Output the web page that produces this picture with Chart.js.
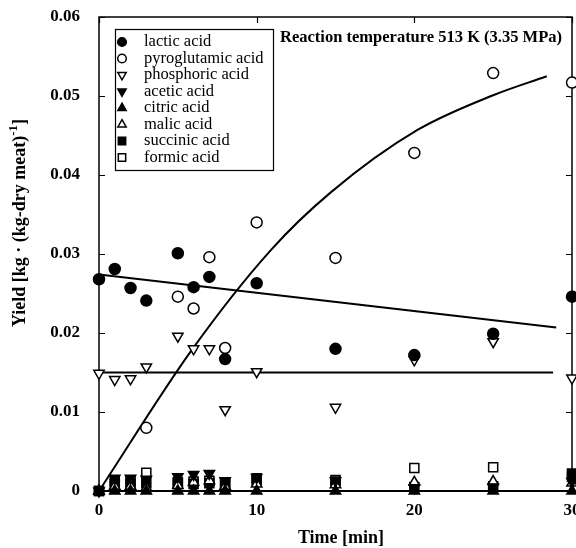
<!DOCTYPE html>
<html>
<head>
<meta charset="utf-8">
<script src="https://cdn.jsdelivr.net/npm/chart.js@4.4.1/dist/chart.umd.min.js"></script>
<style>
  html, body { margin: 0; padding: 0; background: #fff; }
</style>
</head>
<body>
<canvas id="chart" width="576" height="548"></canvas>
<script>
// --- Data ---
const times = [0, 1, 2, 3, 5, 6, 7, 8, 10, 15, 20, 25, 30];
const lactic       = [0.0268, 0.0281, 0.0257, 0.0241, 0.0301, 0.0258, 0.0271, 0.0167, 0.0263, 0.0180, 0.0172, 0.0199, 0.0246];
const pyroglutamic = [null, null, null, 0.0080, 0.0246, 0.0231, 0.0296, 0.0181, 0.0340, 0.0295, 0.0428, 0.0529, 0.0517];
const phosphoric   = [0.0149, 0.0141, 0.0142, 0.0157, 0.0196, 0.0180, 0.0180, 0.0103, 0.0151, 0.0106, 0.0166, 0.0189, 0.0143];
const acetic       = [0, 0.0016, 0.0016, 0.0015, 0.0018, 0.0021, 0.0022, 0.0013, 0.0017, 0.0013, 0.0004, 0.0005, 0.0012];
const citric       = [0, 0, 0, 0, 0, 0, 0, 0, 0, 0, 0, 0, 0];
const malic        = [0, 0.0006, 0.0006, 0.0004, 0.0007, 0.0011, 0.0013, 0.0006, 0.0009, 0.0008, 0.0011, 0.0012, 0.0010];
const succinic     = [0, 0.0009, 0.0009, 0.0010, 0.0009, 0.0009, 0.0010, 0.0009, 0.0012, 0.0012, 0.0005, 0.0006, 0.0022];
const formic       = [0, 0.0012, 0.0012, 0.0023, 0.0011, 0.0012, 0.0013, 0.0010, 0.0016, 0.0014, 0.0029, 0.0030, 0.0018];

// fitted lines as drawn in the figure
const lacticFitT = [0, 29];
const lacticFitY = [0.0274, 0.0207];
const phosFitT = [0, 28.8];
const phosFitY = [0.0150, 0.0150];
const pyroFitT = [0, 5.9, 10.9, 14.7, 20.2, 25, 28.4];
const pyroFitY = [0, 0.0179, 0.0305, 0.0378, 0.0457, 0.0501, 0.0525];

const xTicks = [0, 10, 20, 30];
const yTicks = [0, 0.01, 0.02, 0.03, 0.04, 0.05, 0.06];

const pts = (xs, ys) => xs.map((x, i) => ({ x: x, y: ys[i] }));
const serif = '"Liberation Serif", "Times New Roman", serif';

// --- Series styles ---
const series = [
  { label: 'lactic acid',       data: lactic,       style: 'circle',   fill: true,  rot: 0,   r: 5.5 },
  { label: 'pyroglutamic acid', data: pyroglutamic, style: 'circle',   fill: false, rot: 0,   r: 5.5 },
  { label: 'phosphoric acid',   data: phosphoric,   style: 'triangle', fill: false, rot: 180, r: 6 },
  { label: 'acetic acid',       data: acetic,       style: 'triangle', fill: true,  rot: 180, r: 6 },
  { label: 'citric acid',       data: citric,       style: 'triangle', fill: true,  rot: 0,   r: 6 },
  { label: 'malic acid',        data: malic,        style: 'triangle', fill: false, rot: 0,   r: 6 },
  { label: 'succinic acid',     data: succinic,     style: 'rect',     fill: true,  rot: 0,   r: 6.4 },
  { label: 'formic acid',       data: formic,       style: 'rect',     fill: false, rot: 0,   r: 6.4 }
];

const scatterSets = series.map(s => ({
  type: 'scatter',
  label: s.label,
  data: pts(times, s.data),
  pointStyle: s.style,
  rotation: s.rot,
  pointRadius: s.r,
  pointBorderWidth: 1.5,
  pointBackgroundColor: s.fill ? '#000' : '#fff',
  pointBorderColor: '#000',
  clip: false
}));

const fitLine = (xs, ys, curved) => ({
  type: 'line',
  label: '_fit',
  data: pts(xs, ys),
  borderColor: '#000',
  borderWidth: 2,
  pointRadius: 0,
  fill: false,
  tension: 0,
  cubicInterpolationMode: curved ? 'monotone' : 'default',
  clip: false
});

// --- Frame, inward ticks, legend box, text ---
const decorPlugin = {
  id: 'decor',
  beforeDatasetsDraw(chart) {
    const { ctx, chartArea: a, scales } = chart;
    ctx.save();
    ctx.strokeStyle = '#000';
    ctx.lineWidth = 1.5;
    ctx.strokeRect(a.left, a.top, a.right - a.left, a.bottom - a.top);
    ctx.lineWidth = 1.2;
    ctx.beginPath();
    yTicks.forEach(v => {
      const y = Math.round(scales.y.getPixelForValue(v)) + 0.5;
      ctx.moveTo(a.left, y); ctx.lineTo(a.left + 6, y);
      ctx.moveTo(a.right, y); ctx.lineTo(a.right - 6, y);
    });
    xTicks.forEach(v => {
      const x = Math.round(scales.x.getPixelForValue(v)) + 0.5;
      ctx.moveTo(x, a.top); ctx.lineTo(x, a.top + 6);
      ctx.moveTo(x, a.bottom); ctx.lineTo(x, a.bottom - 6);
    });
    ctx.stroke();
    ctx.lineWidth = 2;
    ctx.beginPath();
    ctx.moveTo(a.left, a.bottom); ctx.lineTo(a.right, a.bottom);
    ctx.stroke();
    ctx.restore();
  },
  afterDraw(chart) {
    const { ctx } = chart;
    ctx.save();

    // legend
    ctx.fillStyle = '#fff';
    ctx.fillRect(115, 29, 158, 141);
    ctx.strokeStyle = '#000';
    ctx.lineWidth = 1.2;
    ctx.strokeRect(115.5, 29.5, 158, 141);
    ctx.font = '16.5px ' + serif;
    ctx.textBaseline = 'middle';
    ctx.textAlign = 'left';
    series.forEach((s, i) => {
      const y = 42 + i * 16.5;
      ctx.fillStyle = s.fill ? '#000' : '#fff';
      ctx.strokeStyle = '#000';
      ctx.lineWidth = 1.5;
      Chart.helpers.drawPoint(ctx, { pointStyle: s.style, rotation: s.rot, radius: s.r - 1.2, borderWidth: 1.5 }, 122, y);
      ctx.fillStyle = '#000';
      ctx.fillText(s.label, 144, y);
    });

    // panel title
    ctx.font = 'bold 16.5px ' + serif;
    ctx.fillStyle = '#000';
    ctx.textAlign = 'right';
    ctx.fillText('Reaction temperature 513 K (3.35 MPa)', 562, 38);

    // x-axis title
    ctx.font = 'bold 18px ' + serif;
    ctx.textAlign = 'center';
    ctx.textBaseline = 'middle';
    ctx.fillText('Time [min]', 341, 538);

    // y-axis title with superscript
    ctx.translate(20, 223);
    ctx.rotate(-Math.PI / 2);
    const main = 'Yield [kg · (kg-dry meat)';
    const sup = '-1';
    const end = ']';
    ctx.font = 'bold 18px ' + serif;
    const w1 = ctx.measureText(main).width;
    const w3 = ctx.measureText(end).width;
    ctx.font = 'bold 13px ' + serif;
    const w2 = ctx.measureText(sup).width;
    let x = -(w1 + w2 + w3) / 2;
    ctx.textAlign = 'left';
    ctx.textBaseline = 'middle';
    ctx.font = 'bold 18px ' + serif;
    ctx.fillText(main, x, 0);
    x += w1;
    ctx.font = 'bold 13px ' + serif;
    ctx.fillText(sup, x, -6);
    x += w2;
    ctx.font = 'bold 18px ' + serif;
    ctx.fillText(end, x, 0);
    ctx.restore();
  }
};

new Chart(document.getElementById('chart'), {
  data: {
    datasets: scatterSets.concat([
      fitLine(lacticFitT, lacticFitY, false),
      fitLine(phosFitT, phosFitY, false),
      fitLine(pyroFitT, pyroFitY, true)
    ])
  },
  options: {
    responsive: false,
    animation: false,
    devicePixelRatio: 1,
    layout: { autoPadding: false, padding: { left: 0, top: 17, right: 4, bottom: 0 } },
    plugins: {
      legend: { display: false },
      tooltip: { enabled: false },
      title: { display: false }
    },
    scales: {
      x: {
        type: 'linear',
        min: 0,
        max: 30,
        afterFit: s => { s.height = 57; s.paddingLeft = 0; s.paddingRight = 0; },
        grid: { display: false, drawTicks: false },
        border: { display: false },
        ticks: {
          stepSize: 10,
          padding: 9,
          color: '#000',
          maxRotation: 0,
          font: { family: serif, size: 17, weight: 'bold' }
        }
      },
      y: {
        type: 'linear',
        min: 0,
        max: 0.06,
        afterFit: s => { s.width = 99; s.paddingTop = 0; s.paddingBottom = 0; },
        grid: { display: false, drawTicks: false },
        border: { display: false },
        ticks: {
          stepSize: 0.01,
          padding: 19,
          color: '#000',
          font: { family: serif, size: 17, weight: 'bold' },
          callback: v => v === 0 ? '0' : v.toFixed(2)
        }
      }
    }
  },
  plugins: [decorPlugin]
});
</script>
</body>
</html>
